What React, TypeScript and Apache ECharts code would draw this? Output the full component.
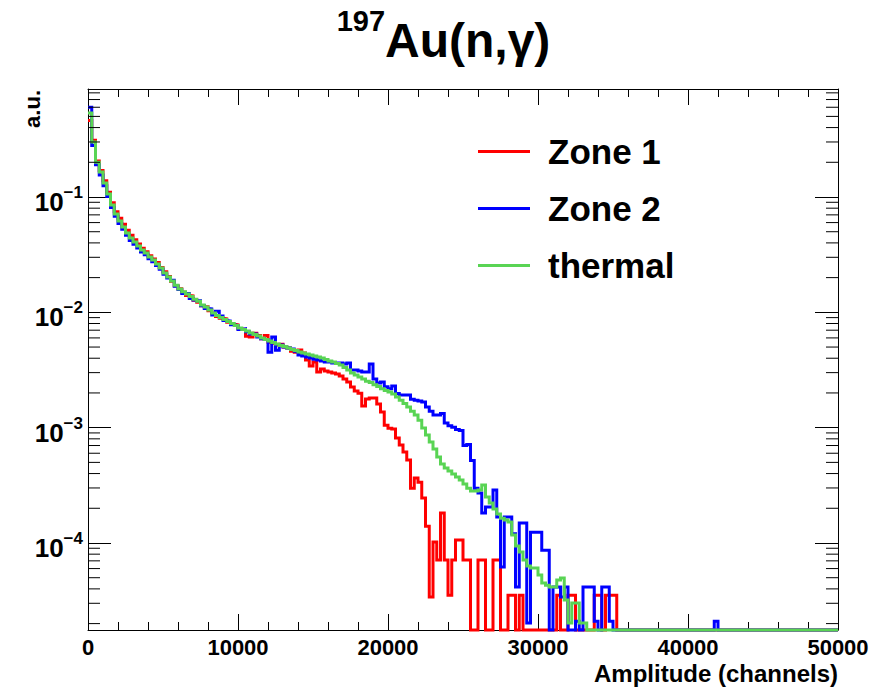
import React, { useEffect, useRef } from 'react';
import * as echarts from 'echarts';

// ---- histogram binning ----
const BIN_WIDTH = 250; // channels per bin
const X_MIN = 0;
const X_MAX = 50000;
const X_INTERVAL = 10000;
const Y_MIN = 1.76e-5;
const Y_MAX = 0.864;

const seriesNames = ['Zone 1', 'Zone 2', 'thermal'];
const seriesColors = ['#ff0000', '#0000ff', '#59d454'];
const yDecades = [-4, -3, -2, -1]; // labelled powers of ten
const minorDecades = [-5, -4, -3, -2, -1];
const minorMultipliers = [2, 3, 4, 5, 6, 7, 8, 9];

const titleMain = 'Au(n,γ)';
const titleSup = '197';
const xTitle = 'Amplitude (channels)';
const yTitle = 'a.u.';

// bin contents (bin i covers [i*250, (i+1)*250) channels)
const zone1 = [
  0.46, 0.31, 0.205, 0.170, 0.138, 0.110, 0.0890, 0.0745, 0.0655, 0.0580,
  0.0515, 0.0465, 0.0425, 0.0392, 0.0360, 0.0335, 0.0310, 0.0290, 0.0270, 0.0245,
  0.0225, 0.0205, 0.0186, 0.0170, 0.0160, 0.0149, 0.0140, 0.0139, 0.0127, 0.0122,
  0.0114, 0.0112, 0.0103, 0.0098, 0.0092, 0.0089, 0.0088, 0.0082, 0.0079, 0.0078,
  0.0072, 0.0071, 0.0062, 0.0061, 0.0066, 0.0063, 0.0059, 0.0063, 0.0055, 0.0054,
  0.0052, 0.0053, 0.0050, 0.0049, 0.0046, 0.0045, 0.00471, 0.00444, 0.00386, 0.00342,
  0.00371, 0.00304, 0.00322, 0.00310, 0.00304, 0.00298, 0.00292, 0.00280, 0.00264, 0.00249,
  0.00225, 0.00208, 0.00199, 0.00154, 0.00177, 0.00181, 0.00181, 0.00160, 0.00137, 0.00105,
  0.00099, 0.000973, 0.000812, 0.000706, 0.000614, 0.000524, 0.000299, 0.000366, 0.000337, 0.000245,
  0.000140, 0.0000340, 0.000102, 0.0000711, 0.000182, 0.0000711, 0.0000353, 0.0000711, 0.000106, 0.000106,
  0.0000711, 0.0000711, 0, 0, 0.0000711, 0.0000711, 0, 0, 0.0000711, 0.0000711,
  0, 0, 0.0000353, 0.0000353, 0, 0.0000353, 0, 0, 0, 0,
  0, 0, 0, 0, 0, 0.0000353, 0, 0, 0.0000353, 0.0000353,
  0, 0, 0, 0, 0, 0.0000353, 0.0000353, 0, 0.0000353, 0.0000353,
  0.0000353, 0, 0, 0, 0, 0, 0, 0, 0, 0,
  0, 0, 0, 0, 0, 0, 0, 0, 0, 0,
  0, 0, 0, 0, 0, 0, 0, 0, 0, 0,
  0, 0, 0, 0, 0, 0, 0, 0, 0, 0,
  0, 0, 0, 0, 0, 0, 0, 0, 0, 0,
  0, 0, 0, 0, 0, 0, 0, 0, 0, 0,
];

const zone2 = [
  0.60, 0.28, 0.19, 0.155, 0.125, 0.101, 0.081, 0.068, 0.0590, 0.0525,
  0.0465, 0.0420, 0.0390, 0.0362, 0.0333, 0.0315, 0.0292, 0.0275, 0.0255, 0.0236,
  0.0214, 0.0198, 0.0190, 0.0168, 0.0158, 0.0146, 0.0146, 0.0132, 0.0128, 0.0126,
  0.0114, 0.0108, 0.0107, 0.0095, 0.0102, 0.0093, 0.0085, 0.0084, 0.0078, 0.0077,
  0.0071, 0.0072, 0.0068, 0.0065, 0.0065, 0.0061, 0.0059, 0.0058, 0.0045, 0.0061,
  0.0047, 0.0052, 0.0050, 0.0049, 0.0048, 0.0046, 0.00427, 0.00418, 0.00410, 0.00401,
  0.00392, 0.00386, 0.00378, 0.00371, 0.00371, 0.00363, 0.00363, 0.00363, 0.00356, 0.00363,
  0.00316, 0.00316, 0.00310, 0.00304, 0.00304, 0.00356, 0.00264, 0.00244, 0.00249, 0.00226,
  0.00218, 0.00230, 0.00198, 0.00192, 0.00192, 0.00192, 0.00176, 0.00173, 0.00170, 0.00167,
  0.00151, 0.00139, 0.00129, 0.00129, 0.00133, 0.00110, 0.00104, 0.00101, 0.000964, 0.000944,
  0.000700, 0.000714, 0.000519, 0.000299, 0.000271, 0.000182, 0.000205, 0.000205, 0.000288, 0.000168,
  0.0000618, 0.000168, 0.000168, 0.000120, 0.0000415, 0.000149, 0.000149, 0.0000202, 0.000124, 0.000124,
  0.000124, 0.0000867, 0.0000867, 0, 0.0000415, 0.0000415, 0.0000340, 0.0000415, 0, 0,
  0.0000210, 0, 0.0000415, 0.0000415, 0.0000415, 0.0000210, 0, 0.0000415, 0.0000415, 0.0000210,
  0, 0, 0, 0, 0, 0, 0, 0, 0, 0,
  0, 0, 0, 0, 0, 0, 0, 0, 0, 0,
  0, 0, 0, 0, 0, 0, 0, 0.0000210, 0, 0,
  0, 0, 0, 0, 0, 0, 0, 0, 0, 0,
  0, 0, 0, 0, 0, 0, 0, 0, 0, 0,
  0, 0, 0, 0, 0, 0, 0, 0, 0, 0,
];

const thermal = [
  0.536, 0.300, 0.200, 0.165, 0.132, 0.106, 0.0853, 0.0713, 0.0619, 0.0550,
  0.0488, 0.0441, 0.0407, 0.0376, 0.0347, 0.0327, 0.0302, 0.0284, 0.0262, 0.0242,
  0.0219, 0.0202, 0.0187, 0.0172, 0.0159, 0.0151, 0.0144, 0.0137, 0.0130, 0.0125,
  0.0116, 0.0111, 0.0105, 0.00986, 0.00938, 0.00902, 0.00867, 0.00832, 0.00800, 0.00769,
  0.00731, 0.00710, 0.00689, 0.00661, 0.00642, 0.00622, 0.00598, 0.00581, 0.00564, 0.00547,
  0.00531, 0.00515, 0.00505, 0.00490, 0.00475, 0.00466, 0.00453, 0.00444, 0.00435, 0.00426,
  0.00418, 0.00410, 0.00401, 0.00390, 0.00378, 0.00371, 0.00360, 0.00349, 0.00332, 0.00316,
  0.00298, 0.00286, 0.00275, 0.00264, 0.00253, 0.00246, 0.00236, 0.00227, 0.00218, 0.00210,
  0.00204, 0.00196, 0.00184, 0.00173, 0.00162, 0.00151, 0.00139, 0.00129, 0.00116, 0.000993,
  0.000863, 0.000750, 0.000652, 0.000556, 0.000483, 0.000446, 0.000420, 0.000396, 0.000373, 0.000351,
  0.000324, 0.000299, 0.000282, 0.000282, 0.000288, 0.000318, 0.000250, 0.000222, 0.000197, 0.000178,
  0.000164, 0.000158, 0.000152, 0.000117, 0.0000940, 0.0000834, 0.0000711, 0.0000631, 0.0000606, 0.0000606,
  0.0000527, 0.0000449, 0.0000431, 0.0000415, 0.0000415, 0.0000477, 0.0000497, 0.0000320, 0.0000202, 0.0000301,
  0.0000301, 0.0000202, 0.0000202, 0, 0, 0, 0, 0, 0, 0,
  0, 0, 0, 0, 0, 0, 0, 0, 0, 0,
  0, 0, 0, 0, 0, 0, 0, 0, 0, 0,
  0, 0, 0, 0, 0, 0, 0, 0, 0, 0,
  0, 0, 0, 0, 0, 0, 0, 0, 0, 0,
  0, 0, 0, 0, 0, 0, 0, 0, 0, 0,
  0, 0, 0, 0, 0, 0, 0, 0, 0, 0,
];

const FONT = '"Liberation Sans", Arial, Helvetica, sans-serif';

// histogram -> step points at bin low edges; empty bins sit on the frame (log scale)
function toSteps(vals: number[]) {
  const pts: number[][] = [];
  let last = Y_MIN;
  vals.forEach((v, i) => {
    last = v > 0 ? v : Y_MIN;
    pts.push([X_MIN + i * BIN_WIDTH, last]);
  });
  pts.push([X_MIN + vals.length * BIN_WIDTH, last]);
  return pts;
}

function minorTickData() {
  const out: number[][] = [];
  minorDecades.forEach((e) => {
    minorMultipliers.forEach((m) => {
      const v = m * Math.pow(10, e);
      if (v > Y_MIN && v < Y_MAX) out.push([X_MIN, v]);
    });
  });
  return out;
}

export default function App() {
  const ref = useRef<HTMLDivElement>(null);

  useEffect(() => {
    if (!ref.current) return;
    const chart = echarts.init(ref.current, null, { renderer: 'svg' });

    const yLabelFormatter = (v: number) => {
      const e = Math.log10(v);
      const r = Math.round(e);
      if (Math.abs(e - r) > 1e-6 || yDecades.indexOf(r) < 0) return '';
      return `{b|10}{s|\u2212${-r}}`;
    };

    const xAxisBase = {
      type: 'value',
      min: X_MIN,
      max: X_MAX,
      interval: X_INTERVAL,
      splitLine: { show: false },
      axisLine: { show: true, onZero: false, lineStyle: { color: '#000', width: 1 } },
      axisTick: { show: true, inside: true, length: 16, lineStyle: { color: '#000', width: 1 } },
      minorTick: { show: true, splitNumber: 5, length: 8, lineStyle: { color: '#000', width: 1 } },
    };

    const yAxisBase = {
      type: 'log',
      logBase: 10,
      min: Y_MIN,
      max: Y_MAX,
      splitLine: { show: false },
      minorTick: { show: false },
      axisLine: { show: true, onZero: false, lineStyle: { color: '#000', width: 1 } },
      axisTick: { show: true, inside: true, length: 23, lineStyle: { color: '#000', width: 1 } },
    };

    const option: any = {
      animation: false,
      backgroundColor: '#ffffff',
      title: {
        text: `{sup|${titleSup}}{main|${titleMain}}`,
        left: 'center',
        top: 6,
        padding: 0,
        textStyle: {
          rich: {
            main: { fontSize: 48, fontWeight: 'bold', fontFamily: FONT, color: '#000', lineHeight: 58, verticalAlign: 'bottom' },
            sup: { fontSize: 29, fontWeight: 'bold', fontFamily: FONT, color: '#000', lineHeight: 30, verticalAlign: 'top' },
          },
        },
      },
      grid: { left: 88, right: 49, top: 89, bottom: 57, containLabel: false },
      legend: {
        orient: 'vertical',
        left: 478,
        top: 134,
        padding: 0,
        icon: 'rect',
        itemWidth: 52,
        itemHeight: 3,
        itemGap: 22,
        data: seriesNames,
        textStyle: { fontSize: 35, fontWeight: 'bold', fontFamily: FONT, color: '#000', lineHeight: 35, padding: [0, 0, 0, 13] },
      },
      xAxis: [
        {
          ...xAxisBase,
          position: 'bottom',
          axisLabel: {
            show: true,
            fontSize: 22,
            fontWeight: 'bold',
            fontFamily: FONT,
            color: '#000',
            margin: 6,
            formatter: (v: number) => String(v),
          },
        },
        { ...xAxisBase, position: 'top', axisLabel: { show: false } },
      ],
      yAxis: [
        {
          ...yAxisBase,
          position: 'left',
          axisLabel: {
            show: true,
            margin: 5,
            showMinLabel: false,
            showMaxLabel: false,
            formatter: yLabelFormatter,
            rich: {
              b: { fontSize: 26, fontWeight: 'bold', fontFamily: FONT, color: '#000', lineHeight: 26, padding: [10, 0, 0, 0] },
              s: { fontSize: 17, fontWeight: 'bold', fontFamily: FONT, color: '#000', lineHeight: 17, verticalAlign: 'top' },
            },
          },
        },
        { ...yAxisBase, position: 'right', axisLabel: { show: false } },
      ],
      graphic: [
        {
          type: 'text',
          right: 49,
          top: 661,
          style: { text: xTitle, font: `bold 24px ${FONT}`, fill: '#000' },
        },
        {
          type: 'text',
          x: 21,
          y: 90,
          rotation: Math.PI / 2,
          style: { text: yTitle, font: `bold 22px ${FONT}`, fill: '#000', textAlign: 'right', textVerticalAlign: 'top' },
        },
      ],
      series: [
        ...[zone1, zone2, thermal].map((vals, k) => ({
          name: seriesNames[k],
          type: 'line',
          step: 'end',
          xAxisIndex: 0,
          yAxisIndex: 0,
          data: toSteps(vals),
          showSymbol: false,
          symbol: 'none',
          clip: false,
          color: seriesColors[k],
          lineStyle: { color: seriesColors[k], width: 3, join: 'miter' },
          z: 3 + k,
        })),
        {
          type: 'custom',
          name: 'minorTicks',
          xAxisIndex: 0,
          yAxisIndex: 0,
          clip: false,
          silent: true,
          z: 10,
          data: minorTickData(),
          encode: { x: 0, y: 1 },
          renderItem: (params: any, api: any) => {
            const v = api.value(1);
            const pl = api.coord([X_MIN, v]);
            const pr = api.coord([X_MAX, v]);
            const st = { stroke: '#000', lineWidth: 1 };
            return {
              type: 'group',
              children: [
                { type: 'line', shape: { x1: pl[0], y1: pl[1], x2: pl[0] + 12, y2: pl[1] }, style: st },
                { type: 'line', shape: { x1: pr[0] - 12, y1: pr[1], x2: pr[0], y2: pr[1] }, style: st },
              ],
            };
          },
        },
      ],
    };

    chart.setOption(option);
    return () => chart.dispose();
  }, []);

  return (
    <div
      ref={ref}
      style={{ position: 'fixed', left: 0, top: 0, width: 887, height: 687, background: '#fff' }}
    />
  );
}
